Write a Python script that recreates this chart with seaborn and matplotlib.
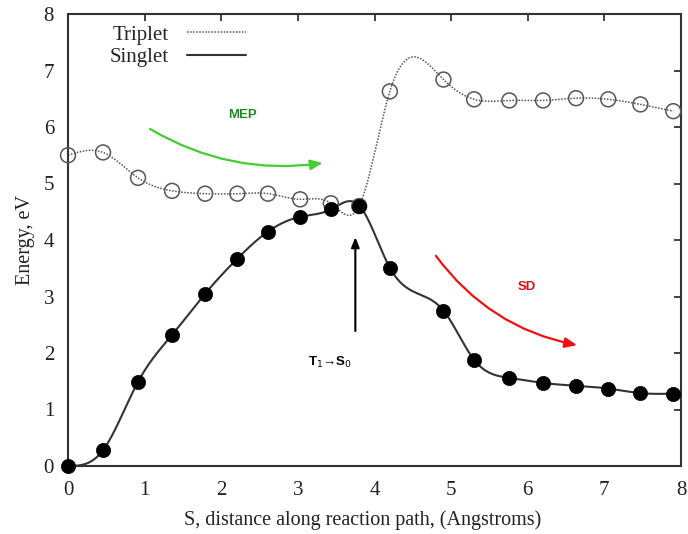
import numpy as np
import pandas as pd
import matplotlib
matplotlib.use("Agg")
import matplotlib.pyplot as plt
from matplotlib.lines import Line2D
import seaborn as sns

# ---- data ----
s_path = [0.0, 0.457, 0.914, 1.358, 1.79, 2.21, 2.61, 3.03, 3.43, 3.80,
          4.20, 4.90, 5.30, 5.76, 6.20, 6.63, 7.05, 7.47, 7.90]
singlet = [0.0, 0.28, 1.49, 2.32, 3.05, 3.67, 4.15, 4.41, 4.54, 4.61,
           3.51, 2.75, 1.88, 1.56, 1.47, 1.42, 1.37, 1.29, 1.28]
triplet = [5.50, 5.55, 5.10, 4.87, 4.82, 4.82, 4.82, 4.72, 4.65, 4.60,
           6.63, 6.84, 6.49, 6.47, 6.47, 6.51, 6.49, 6.40, 6.28]
series_names = ["Triplet", "Singlet"]
x_ticks = [0, 1, 2, 3, 4, 5, 6, 7, 8]
y_ticks = [0, 1, 2, 3, 4, 5, 6, 7, 8]


def natural_spline(x, y, xs):
    x = np.asarray(x, float); y = np.asarray(y, float)
    n = len(x)
    h = np.diff(x)
    A = np.zeros((n, n)); b = np.zeros(n)
    A[0, 0] = 1; A[-1, -1] = 1
    for i in range(1, n - 1):
        A[i, i - 1] = h[i - 1]
        A[i, i] = 2 * (h[i - 1] + h[i])
        A[i, i + 1] = h[i]
        b[i] = 6 * ((y[i + 1] - y[i]) / h[i] - (y[i] - y[i - 1]) / h[i - 1])
    M = np.linalg.solve(A, b)
    idx = np.clip(np.searchsorted(x, xs) - 1, 0, n - 2)
    xi, xi1 = x[idx], x[idx + 1]
    hi = xi1 - xi
    yi, yi1 = y[idx], y[idx + 1]
    Mi, Mi1 = M[idx], M[idx + 1]
    t1 = xi1 - xs; t2 = xs - xi
    return (Mi * t1**3 / (6 * hi) + Mi1 * t2**3 / (6 * hi)
            + (yi / hi - Mi * hi / 6) * t1 + (yi1 / hi - Mi1 * hi / 6) * t2)


df = pd.DataFrame({"S": s_path, "Singlet": singlet, "Triplet": triplet})
xs = np.linspace(min(s_path), max(s_path), 600)
smooth = pd.DataFrame({"S": xs,
                       "Singlet": natural_spline(s_path, singlet, xs),
                       "Triplet": natural_spline(s_path, triplet, xs)})

sns.set_theme(style="white")
plt.rcParams["font.family"] = ["Liberation Serif", "DejaVu Serif"]

fig = plt.figure(figsize=(6.88, 5.34), dpi=100)
ax = fig.add_axes([68 / 688, 1 - 466 / 534, 613 / 688, 452 / 534])

sns.lineplot(data=smooth, x="S", y="Triplet", ax=ax, color="#555555",
             linestyle=(0, (1, 1)), linewidth=1.1, zorder=2)
sns.lineplot(data=smooth, x="S", y="Singlet", ax=ax, color="#333333",
             linewidth=1.5, zorder=3)
sns.scatterplot(data=df, x="S", y="Triplet", ax=ax, s=115, marker="o",
                facecolor="none", edgecolor="#555555", linewidth=1.1,
                zorder=4, clip_on=False)
sns.scatterplot(data=df, x="S", y="Singlet", ax=ax, s=105, marker="o",
                color="black", edgecolor="black", linewidth=0.5,
                zorder=5, clip_on=False)

ax.set_xlim(0, 8)
ax.set_ylim(0, 8)
ax.set_xticks(x_ticks)
ax.set_yticks(y_ticks)
ax.tick_params(direction="in", length=5, width=1.2, top=True, right=True,
               labelsize=15, colors="#222222")
ax.tick_params(axis="x", pad=11)
ax.tick_params(axis="y", pad=10)
for sp in ax.spines.values():
    sp.set_linewidth(1.5)
    sp.set_color("#333333")
ax.set_xlabel("S, distance along reaction path, (Angstroms)", fontsize=14.5,
              labelpad=7, color="#222222", x=0.48)
ax.set_ylabel("Energy, eV", fontsize=14.5, labelpad=6, color="#222222")

handles = [Line2D([], [], color="#555555", linestyle=(0, (1, 1)), linewidth=1.1),
           Line2D([], [], color="#333333", linewidth=1.5)]
leg = ax.legend(handles, series_names, loc="upper left",
                bbox_to_anchor=(0.037, 1.017), frameon=False, markerfirst=False,
                fontsize=15, handlelength=2.8, handletextpad=0.9,
                labelspacing=0.15)

# annotations
ax.annotate("", xy=(3.36, 5.37), xytext=(1.04, 5.99),
            arrowprops=dict(arrowstyle="-|>,head_length=0.6,head_width=0.25",
                            color="#44cc33", lw=1.6,
                            connectionstyle="arc3,rad=0.18"))
ax.text(2.28, 6.22, "MEP", color="#1f8a1f", fontsize=9.5, fontweight="bold",
        family="Liberation Sans", ha="center", va="center")

ax.annotate("", xy=(6.68, 2.13), xytext=(4.78, 3.76),
            arrowprops=dict(arrowstyle="-|>,head_length=0.6,head_width=0.25",
                            color="#ee1111", lw=1.6,
                            connectionstyle="arc3,rad=0.2"))
ax.text(5.99, 3.16, "SD", color="#dd1111", fontsize=9.5, fontweight="bold",
        family="Liberation Sans", ha="center", va="center")

ax.annotate("", xy=(3.75, 4.1), xytext=(3.75, 2.34),
            arrowprops=dict(arrowstyle="-|>,head_length=0.5,head_width=0.2",
                            color="black", lw=1.5))
ax.text(3.42, 1.84, r"T$_1$→S$_0$", color="black", fontsize=9.5,
        fontweight="bold", family=["Liberation Sans", "DejaVu Sans"],
        ha="center", va="center")

fig.savefig("out.png", dpi=100)
